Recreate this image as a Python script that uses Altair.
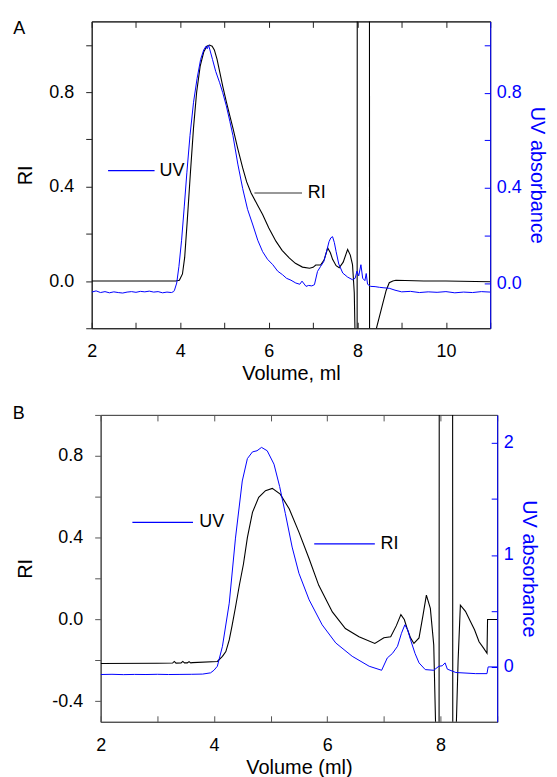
import altair as alt
import pandas as pd

# ---------------- Panel A data ----------------
A_RI_X = [2.0, 3.0, 3.9, 3.98, 4.05, 4.10, 4.16, 4.23, 4.30, 4.37, 4.45, 4.53, 4.60, 4.66,
          4.72, 4.77, 4.83, 4.89, 4.96, 5.04, 5.12, 5.19, 5.30, 5.41, 5.50, 5.60, 5.75, 5.86,
          6.00, 6.16, 6.30, 6.46, 6.60, 6.76, 6.92, 7.00, 7.06, 7.17, 7.25, 7.33, 7.39, 7.44,
          7.52, 7.59, 7.68, 7.78, 7.84, 7.89, 7.93, 7.96, 7.99, 8.00, 8.27, 8.28, 8.40, 8.43,
          8.57, 8.65, 8.72, 8.80, 8.87, 9.50, 10.0, 11.0]
A_RI_Y = [0.0, 0.0, 0.0, 0.003, 0.03, 0.10, 0.26, 0.46, 0.65, 0.80, 0.91, 0.97, 0.995, 1.0,
          0.995, 0.979, 0.94, 0.887, 0.825, 0.76, 0.70, 0.648, 0.56, 0.479, 0.42, 0.373, 0.32, 0.282,
          0.225, 0.169, 0.13, 0.098, 0.075, 0.059, 0.054, 0.058, 0.068, 0.068, 0.09, 0.14, 0.12, 0.092,
          0.065, 0.056, 0.08, 0.134, 0.11, 0.07, -0.05, -0.35, -3.0, 3.0, 3.0, -3.0, -0.35, -0.2,
          -0.098, -0.04, -0.007, 0.0, 0.003, 0.0, 0.0, -0.003]

A_UV_X = [2.0, 2.1, 2.2, 2.3, 2.4, 2.5, 2.6, 2.7, 2.8, 2.9, 3.0, 3.1, 3.2, 3.3, 3.4, 3.5, 3.6,
          3.7, 3.8, 3.85, 3.87, 3.92, 3.97, 4.03, 4.09, 4.15, 4.22, 4.30, 4.38, 4.46, 4.53, 4.58,
          4.61, 4.64, 4.67, 4.73, 4.80, 4.89, 4.96, 5.04, 5.12, 5.19, 5.30, 5.41, 5.52, 5.64, 5.75,
          5.86, 5.97, 6.09, 6.20, 6.31, 6.40, 6.50, 6.61, 6.70, 6.75, 6.84, 6.90, 6.97, 7.03, 7.10,
          7.17, 7.24, 7.30, 7.36, 7.40, 7.44, 7.48, 7.52, 7.58, 7.67, 7.78, 7.89, 7.95, 7.99, 8.03,
          8.08, 8.12, 8.17, 8.20, 8.23, 8.30, 8.40, 8.50, 8.60, 8.72, 8.85, 9.0, 9.2, 9.4, 9.6,
          9.8, 10.0, 10.2, 10.4, 10.6, 10.8, 11.0]
A_UV_Y = [-0.038, -0.033, -0.040, -0.036, -0.041, -0.037, -0.040, -0.042, -0.038, -0.036, -0.039,
          -0.035, -0.037, -0.034, -0.038, -0.036, -0.041, -0.038, -0.040, -0.036, -0.030, 0.0, 0.07,
          0.18, 0.32, 0.466, 0.62, 0.76, 0.86, 0.94, 0.98, 0.995, 0.985, 1.0, 0.98, 0.939, 0.89,
          0.842, 0.80, 0.745, 0.68, 0.62, 0.50, 0.397, 0.31, 0.244, 0.18, 0.132, 0.10, 0.077, 0.05,
          0.035, 0.02, 0.012, 0.0, -0.005, 0.008, -0.014, -0.01, -0.012, -0.007, 0.049, 0.07, 0.09,
          0.13, 0.174, 0.19, 0.195, 0.17, 0.132, 0.08, 0.042, 0.025, 0.014, 0.02, 0.05, 0.03, 0.077,
          0.02, 0.01, 0.04, -0.005, -0.014, -0.015, -0.018, -0.02, -0.022, -0.03, -0.037, -0.035,
          -0.040, -0.037, -0.039, -0.036, -0.041, -0.038, -0.040, -0.036, -0.038]

# ---------------- Panel B data ----------------
B_RI_X = [2.0, 3.0, 3.27, 3.30, 3.33, 3.42, 3.45, 3.48, 3.53, 3.56, 3.59, 3.62, 4.06, 4.15,
          4.21, 4.27, 4.32, 4.38, 4.45, 4.52, 4.59, 4.68, 4.79, 4.91, 5.03, 5.17, 5.33, 5.50,
          5.68, 5.85, 6.09, 6.32, 6.56, 6.84, 7.00, 7.12, 7.22, 7.30, 7.36, 7.41, 7.47, 7.53,
          7.62, 7.69, 7.75, 7.82, 7.88, 7.92, 7.97, 7.98, 8.21, 8.22, 8.27, 8.31, 8.35, 8.44,
          8.53, 8.60, 8.68, 8.76, 8.82, 8.83, 9.0]
B_RI_Y = [-0.215, -0.214, -0.213, -0.205, -0.213, -0.212, -0.205, -0.212, -0.212, -0.206, -0.212,
          -0.211, -0.205, -0.18, -0.157, -0.10, -0.03, 0.06, 0.17, 0.27, 0.40, 0.524, 0.597, 0.63,
          0.641, 0.613, 0.54, 0.427, 0.297, 0.167, 0.037, -0.044, -0.084, -0.117, -0.089, -0.084,
          -0.03, 0.024, 0.0, -0.044, -0.09, -0.117, -0.09, 0.02, 0.119, 0.054, -0.125, -0.6, -3.0,
          3.0, 3.0, -3.0, -0.6, -0.2, 0.07, 0.04, -0.011, -0.05, -0.109, -0.14, -0.165, 0.0, 0.0]

B_UV_X = [2.0, 2.2, 2.4, 2.6, 2.8, 3.0, 3.2, 3.4, 3.6, 3.8, 3.94, 4.0, 4.06, 4.15, 4.27, 4.38,
          4.50, 4.59, 4.68, 4.76, 4.84, 4.94, 5.06, 5.16, 5.26, 5.38, 5.50, 5.68, 5.91, 6.15, 6.44,
          6.74, 6.96, 7.06, 7.15, 7.24, 7.31, 7.37, 7.42, 7.47, 7.55, 7.62, 7.73, 7.88, 7.97, 8.03,
          8.08, 8.12, 8.27, 8.62, 8.82, 8.84, 9.0]
B_UV_Y = [-0.068, -0.066, -0.069, -0.067, -0.068, -0.066, -0.068, -0.067, -0.066, -0.064, -0.053,
          -0.03, 0.006, 0.184, 0.569, 1.15, 1.66, 1.86, 1.92, 1.93, 1.96, 1.93, 1.81, 1.61, 1.37,
          1.07, 0.836, 0.599, 0.376, 0.214, 0.095, 0.006, -0.03, 0.08, 0.12, 0.184, 0.30, 0.376,
          0.33, 0.243, 0.12, 0.036, -0.024, -0.03, 0.006, 0.01, 0.036, -0.02, -0.05, -0.06, -0.06,
          0.0, 0.0]

# ---------------- axes / labels ----------------
A_X_TICKS = [2, 3, 4, 5, 6, 7, 8, 9, 10, 11]
B_X_TICKS = [2, 3, 4, 5, 6, 7, 8, 9]
A_RI_TICKS = [-0.2, 0.0, 0.2, 0.4, 0.6, 0.8, 1.0]
B_RI_TICKS = [-0.4, -0.2, 0.0, 0.2, 0.4, 0.6, 0.8, 1.0]
A_UV_TICKS = [-0.2, 0.0, 0.2, 0.4, 0.6, 0.8, 1.0]
B_UV_TICKS = [0.0, 0.5, 1.0, 1.5, 2.0]

# inline legend entries: label, line x-start, x-end, y (RI units), text x, line colour
A_LEGEND = [("UV", 2.37, 3.42, 0.468, 3.53, "#0000ff"), ("RI", 5.675, 6.75, 0.373, 6.88, "#333333")]
B_LEGEND = [("UV", 2.56, 3.63, 0.475, 3.74, "#0000ff"), ("RI", 5.77, 6.84, 0.37, 6.94, "#0000ff")]

FONT = "Liberation Sans"
BLUE = "#0000ff"
LFS = 18   # tick labels / legend / panel letters
TFS = 20   # axis titles

RI_LABEL = ("round(datum.value*10) % 4 == 0 ? "
            "(datum.value < -0.001 ? '-' : '') + format(abs(datum.value), '.1f') : ''")


def panel(letter, letter_pos, ri_x, ri_y, uv_x, uv_y, xdom, xticks, ri_dom, ri_ticks,
          uv_dom, uv_ticks, uv_label, xtitle, legend, frame_color, width, xlabpad, ri_tpad):
    ri_df = pd.DataFrame({"v": ri_x, "s": ri_y, "i": range(len(ri_x))})
    uv_df = pd.DataFrame({"v": uv_x, "s": uv_y, "i": range(len(uv_x))})

    xscale = alt.Scale(domain=xdom, nice=False, zero=False)
    riscale = alt.Scale(domain=ri_dom, nice=False, zero=False)
    uvscale = alt.Scale(domain=uv_dom, nice=False, zero=False)

    x_bottom = alt.Axis(values=xticks, labelExpr="datum.value % 2 == 0 ? datum.label : ''",
                        orient="bottom", tickSize={"expr": "-6"}, labelPadding=xlabpad,
                        labelFlush=False, title=xtitle, titlePadding=3,
                        domainColor=frame_color, tickColor=frame_color, grid=False)
    x_top = alt.Axis(values=xticks, orient="top", labels=False, tickSize={"expr": "-6"},
                     title=None, domainColor=frame_color, tickColor=frame_color, grid=False)

    ri_axis = alt.Axis(values=ri_ticks, labelExpr=RI_LABEL, title="RI", orient="left",
                       tickSize=6, labelPadding=12, titlePadding=ri_tpad,
                       domainColor=frame_color, tickColor=frame_color, grid=False)
    uv_axis = alt.Axis(values=uv_ticks, labelExpr=uv_label, title="UV absorbance",
                       orient="right", tickSize={"expr": "-6"}, labelPadding=12,
                       titlePadding=5, domainColor=BLUE, tickColor=BLUE, labelColor=BLUE,
                       titleColor=BLUE, grid=False)

    ri_line = alt.Chart(ri_df).mark_line(color="black", strokeWidth=1.1, clip=True).encode(
        x=alt.X("v:Q", scale=xscale, axis=x_bottom),
        y=alt.Y("s:Q", scale=riscale, axis=ri_axis),
        order="i:Q")
    uv_line = alt.Chart(uv_df).mark_line(color=BLUE, strokeWidth=1.0, clip=True).encode(
        x=alt.X("v:Q", scale=xscale, axis=x_top),
        y=alt.Y("s:Q", scale=uvscale, axis=uv_axis),
        order="i:Q")

    layers = [ri_line, uv_line]
    for lab, x1, x2, yv, tx, col in legend:
        seg = pd.DataFrame({"x": [x1, x2], "y": [yv, yv]})
        layers.append(alt.Chart(seg).mark_line(stroke=col, strokeWidth=1.2).encode(
            x=alt.X("x:Q", scale=xscale, axis=None),
            y=alt.Y("y:Q", scale=riscale, axis=None)))
        txt = pd.DataFrame({"lab": [lab], "tx": [tx], "y": [yv]})
        layers.append(alt.Chart(txt).mark_text(align="left", baseline="middle", font=FONT,
                                               fontSize=LFS, color="black").encode(
            x=alt.X("tx:Q", scale=xscale, axis=None),
            y=alt.Y("y:Q", scale=riscale, axis=None),
            text="lab:N"))

    # panel letter placed in the top-left corner outside the frame
    letter_df = pd.DataFrame({"t": [letter]})
    layers.append(alt.Chart(letter_df).mark_text(align="left", baseline="top", font=FONT,
                                                 fontSize=LFS, color="black").encode(
        text="t:N", x=alt.value(letter_pos[0]), y=alt.value(letter_pos[1])))

    return alt.layer(*layers).resolve_scale(y="independent").properties(
        width=width, height=308)


def spacer():
    # invisible 1x1 cell: lets each row be laid out from its own left edge
    return alt.Chart(pd.DataFrame({"z": [0]})).mark_point(size=0, opacity=0).encode(
        x=alt.value(0), y=alt.value(0)).properties(
        width=1, height=1, view=alt.ViewBackground(stroke="transparent"))


panel_a = panel("A", (-78.7, -1), A_RI_X, A_RI_Y, A_UV_X, A_UV_Y, [2, 11], A_X_TICKS,
                [-0.2, 1.1], A_RI_TICKS, [-0.19, 1.1], A_UV_TICKS, RI_LABEL, "Volume, ml",
                A_LEGEND, "#222222", 400, 20, 13)
panel_b = panel("B", (-88.3, -10), B_RI_X, B_RI_Y, B_UV_X, B_UV_Y, [2, 9], B_X_TICKS,
                [-0.5, 1.0], B_RI_TICKS, [-0.49, 2.25], B_UV_TICKS,
                "datum.value % 1 == 0 ? format(datum.value, 'd') : ''",
                "Volume (ml)", B_LEGEND, "#555555", 398, 21, 16)

chart = alt.vconcat(alt.hconcat(spacer(), panel_a, spacing=0),
                    alt.hconcat(spacer(), panel_b, spacing=0), spacing=20).properties(
    padding={"left": 1, "top": 10, "right": 2, "bottom": 0}
).configure_view(stroke="#222222", strokeWidth=1).configure_axis(
    labelFont=FONT, titleFont=FONT, labelFontSize=LFS, titleFontSize=TFS,
    titleFontWeight="normal", labelColor="black", titleColor="black", domainWidth=1,
    tickWidth=1
)

chart.save("out.html", embed_options={"renderer": "svg", "actions": False})
